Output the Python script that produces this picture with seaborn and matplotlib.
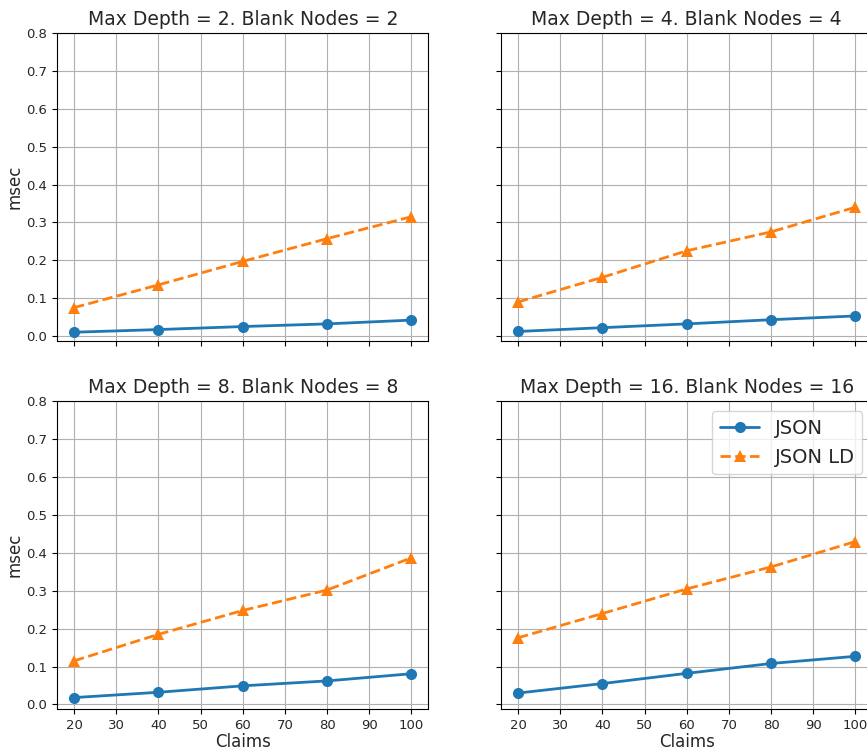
import pandas as pd
import seaborn as sns
import matplotlib
matplotlib.use('Agg')
import matplotlib.pyplot as plt

claims = [20, 40, 60, 80, 100]
depths = [2, 4, 8, 16]

json_ms = {
    2: [0.010, 0.017, 0.025, 0.032, 0.042],
    4: [0.012, 0.022, 0.032, 0.043, 0.053],
    8: [0.018, 0.032, 0.049, 0.062, 0.081],
    16: [0.030, 0.055, 0.082, 0.108, 0.127],
}
jsonld_ms = {
    2: [0.075, 0.135, 0.197, 0.257, 0.315],
    4: [0.090, 0.155, 0.225, 0.275, 0.340],
    8: [0.115, 0.185, 0.248, 0.302, 0.387],
    16: [0.176, 0.240, 0.305, 0.363, 0.430],
}

sns.set_style('ticks')
plt.rcParams['font.family'] = ['DejaVu Sans']

fig, axes = plt.subplots(2, 2, figsize=(8.67, 7.51), dpi=100, sharex=True, sharey=True)
fig.subplots_adjust(left=0.066, right=1.006, top=0.956, bottom=0.056, hspace=0.198, wspace=0.197)

for ax, d in zip(axes.flat, depths):
    df = pd.DataFrame({'Claims': claims, 'JSON': json_ms[d], 'JSON LD': jsonld_ms[d]})
    sns.lineplot(data=df, x='Claims', y='JSON', ax=ax, color='#1f77b4', marker='o',
                 markersize=8, markeredgewidth=0, linewidth=2, label='JSON')
    sns.lineplot(data=df, x='Claims', y='JSON LD', ax=ax, color='#ff7f0e', marker='^',
                 markersize=8, markeredgewidth=0, linewidth=2, linestyle='--', label='JSON LD')
    ax.set_title(f'Max Depth = {d}. Blank Nodes = {d}', fontsize=13.5)
    ax.grid(True, color='#b0b0b0', linewidth=0.8)
    ax.set_axisbelow(True)
    ax.set_ylabel('')
    ax.set_xlabel('')
    for s in ax.spines.values():
        s.set_color('black')
        s.set_linewidth(0.8)
    ax.tick_params(labelsize=9.5, length=3.5, width=0.8, color='black')
    if ax is not axes[1, 1]:
        ax.get_legend().remove()

axes[1, 1].legend(loc='upper right', fontsize=14, framealpha=0.8)

axes[0, 0].set_xticks(range(20, 101, 10))
axes[0, 0].set_yticks([i / 10 for i in range(9)])
axes[0, 0].set_ylim(-0.012, 0.8)
axes[0, 0].set_xlim(16, 104)

for ax in axes[:, 0]:
    ax.set_ylabel('msec', fontsize=12, labelpad=2)
for ax in axes[1, :]:
    ax.set_xlabel('Claims', fontsize=12, labelpad=1)

fig.savefig('out.png', dpi=100)
